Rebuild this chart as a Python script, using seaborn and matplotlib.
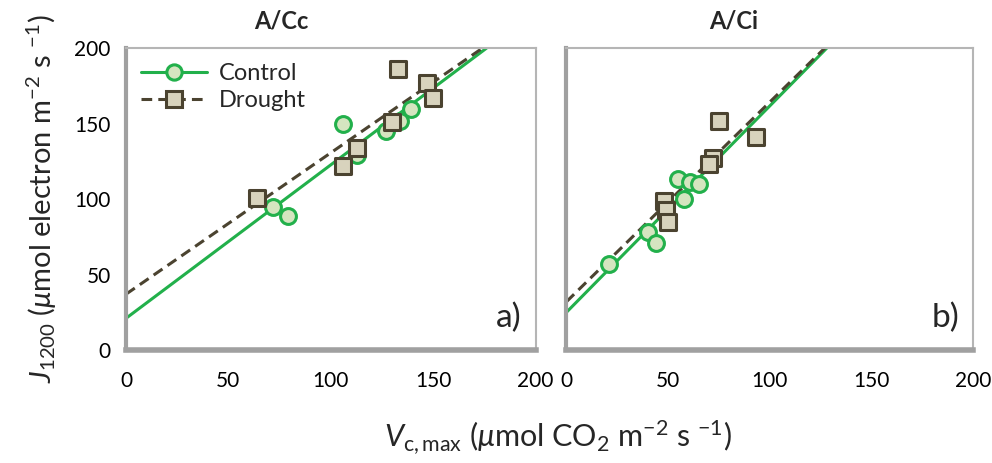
import matplotlib
matplotlib.use('Agg')
import matplotlib.pyplot as plt
import pandas as pd
import seaborn as sns

# Panel a) A/Cc
cc_control_x = [72, 79, 106, 113, 127, 134, 139]
cc_control_y = [95, 89, 150, 129, 145, 152, 160]
cc_drought_x = [64, 106, 113, 130, 133, 147, 150]
cc_drought_y = [101, 122, 134, 151, 186, 177, 167]
cc_fit_control = ([0, 176], [21, 200])
cc_fit_drought = ([0, 174], [37, 200])

# Panel b) A/Ci
ci_control_x = [21, 40, 44, 55, 58, 61, 65]
ci_control_y = [57, 78, 71, 113, 100, 111, 110]
ci_drought_x = [48, 49, 50, 72, 70, 75, 93]
ci_drought_y = [99, 93, 85, 127, 123, 152, 141]
ci_fit_control = ([0, 128], [25, 200])
ci_fit_drought = ([0, 127], [32, 200])

ticks = [0, 50, 100, 150, 200]

green = '#22b04b'
green_face = '#d5e5c0'
brown = '#4b4330'
beige = '#d8d3bd'
gray = '#a0a0a0'

sns.set_style('white')
plt.rcParams['font.family'] = ['Lato', 'DejaVu Sans']
plt.rcParams['mathtext.fontset'] = 'custom'
plt.rcParams['mathtext.rm'] = 'Lato'
plt.rcParams['mathtext.it'] = 'Lato:italic'

fig = plt.figure(figsize=(9.92, 4.63), dpi=100)
ax1 = fig.add_axes([0.127, 0.244, 0.413, 0.652])
ax2 = fig.add_axes([0.571, 0.244, 0.410, 0.652])

panels = [
    (ax1, 'A/Cc', 0.38, 'a)', cc_control_x, cc_control_y, cc_drought_x, cc_drought_y, cc_fit_control, cc_fit_drought),
    (ax2, 'A/Ci', 0.41, 'b)', ci_control_x, ci_control_y, ci_drought_x, ci_drought_y, ci_fit_control, ci_fit_drought),
]

for ax, title, tx, tag, cx, cy, dx, dy, fc, fd in panels:
    fit_c = pd.DataFrame({'x': fc[0], 'y': fc[1]})
    fit_d = pd.DataFrame({'x': fd[0], 'y': fd[1]})
    sns.lineplot(data=fit_c, x='x', y='y', ax=ax, color=green, lw=2.2, zorder=2)
    sns.lineplot(data=fit_d, x='x', y='y', ax=ax, color=brown, lw=2.2, zorder=2,
                 linestyle=(0, (3.5, 2)))
    sns.scatterplot(x=cx, y=cy, ax=ax, marker='o', s=130, color=green_face,
                    edgecolor=green, linewidth=2.2, zorder=3)
    sns.scatterplot(x=dx, y=dy, ax=ax, marker='s', s=140, color=beige,
                    edgecolor=brown, linewidth=2.2, zorder=4)

    ax.set_xlim(0, 200)
    ax.set_ylim(0, 200)
    ax.set_xticks(ticks)
    ax.set_yticks(ticks)
    ax.set_xlabel('')
    ax.set_ylabel('')
    ax.set_title(title, fontsize=17, fontweight='bold', x=tx, pad=14)
    ax.text(0.965, 0.055, tag, transform=ax.transAxes, ha='right', va='bottom', fontsize=24)

    for side in ['top', 'right']:
        ax.spines[side].set_color('#b5b5b5')
        ax.spines[side].set_linewidth(1.5)
    ax.spines['left'].set_color(gray)
    ax.spines['left'].set_linewidth(3)
    ax.spines['bottom'].set_color(gray)
    ax.spines['bottom'].set_linewidth(4)
    ax.tick_params(direction='inout', length=10, width=2.5, color=gray,
                   labelsize=15, labelcolor='black', pad=6)
    ax.tick_params(axis='x', pad=10)

ax2.tick_params(axis='y', labelleft=False)

# legend in panel a
ax1.plot([], [], color=green, lw=2.2, marker='o', ms=11, mfc=green_face, mec=green,
         mew=2.2, label='Control')
ax1.plot([], [], color=brown, lw=2.2, linestyle=(0, (3.5, 2)), marker='s', ms=11,
         mfc=beige, mec=brown, mew=2.2, label='Drought')
handles, labels = ax1.get_legend_handles_labels()
ax1.legend(handles[-2:], labels[-2:], loc='upper left', frameon=False, fontsize=17,
           handlelength=2.8, borderaxespad=0.25, labelspacing=0.25, handletextpad=0.5)

fig.text(0.562, 0.056, r'$V_{\mathrm{c,max}}$ ($\mu$mol CO$_2$ m$^{-2}$ s $^{-1}$)',
         ha='center', va='center', fontsize=22)
fig.text(0.042, 0.57, r'$J_{\mathrm{1200}}$ ($\mu$mol electron m$^{-2}$ s $^{-1}$)',
         ha='center', va='center', rotation=90, fontsize=21)

fig.savefig('out.png', dpi=100)
